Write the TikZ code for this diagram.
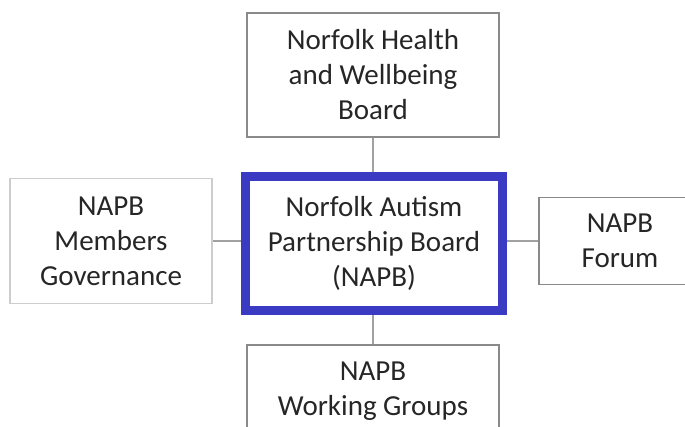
\documentclass[tikz,border=0pt]{standalone}
\usepackage{fontspec}
\setmainfont{Carlito}
\definecolor{boardblue}{HTML}{3A3AC2}
\definecolor{boxgrey}{HTML}{8A8A8A}
\definecolor{palegrey}{HTML}{CDCDCD}
\definecolor{textgrey}{HTML}{262626}

\begin{document}
\begin{tikzpicture}[x=1pt,y=-1pt,
  every node/.style={align=center,inner sep=0pt,text=textgrey,
    font=\fontsize{29}{35}\selectfont},
  box/.style={shape=rectangle,draw=boxgrey,line width=1.5pt},
  link/.style={draw=boxgrey!80,line width=1.5pt}]
\useasboundingbox (0,0) rectangle (685,427);
\clip (0,0) rectangle (685,427);

\path (373,75) node (hwb) [box,minimum width=252,minimum height=124] {Norfolk Health\\and Wellbeing\\Board};
\path (374,243.5) node (napb) [box,draw=boardblue,line width=9pt,minimum width=257,minimum height=134] {Norfolk Autism\\Partnership Board\\(NAPB)};
\path (111,241) node (members) [box,draw=palegrey,minimum width=202,minimum height=125] {NAPB\\Members\\Governance};
\path (620,241) node (forum) [box,minimum width=162,minimum height=87] {NAPB\\Forum};
\path (373,391) node (groups) [box,minimum width=252,minimum height=92] {NAPB\\Working Groups};

\draw [link] (hwb.south) to (hwb.south |- napb.north);
\draw [link] (groups.north) to (groups.north |- napb.south);
\draw [link] (members.east) to (members.east -| napb.west);
\draw [link] (forum.west) to (forum.west -| napb.east);
\end{tikzpicture}
\end{document}
